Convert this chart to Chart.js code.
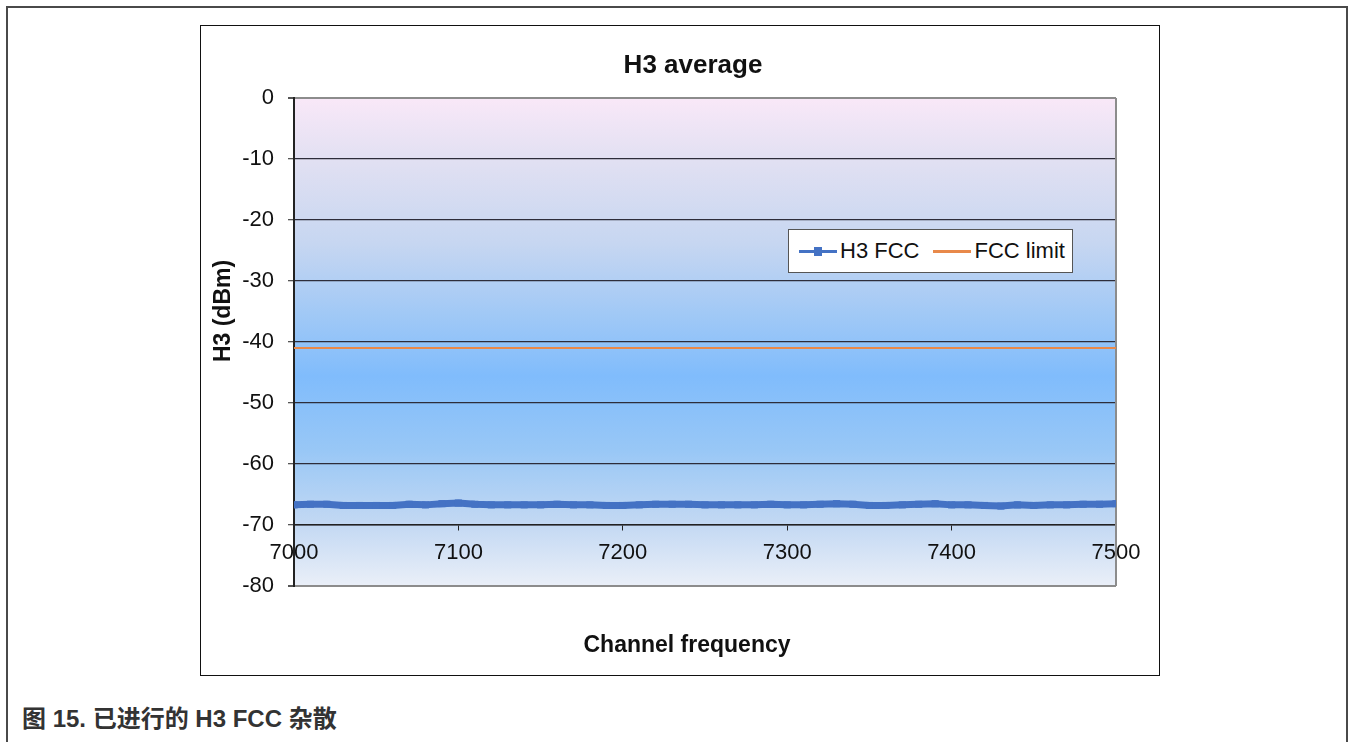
<!DOCTYPE html>
<html>
<head>
<meta charset="utf-8">
<script src="https://cdn.jsdelivr.net/npm/chart.js@4.4.1/dist/chart.umd.min.js"></script>
<style>
  body { margin: 0; background: #fff; width: 1354px; height: 742px; overflow: hidden; position: relative; }
  #frame { position: absolute; left: 6px; top: 6px; width: 1342px; height: 760px; border: 2px solid #4a4a4a; box-sizing: border-box; }
  #box { position: absolute; left: 200px; top: 25px; width: 960px; height: 651px; border: 1px solid #111; box-sizing: border-box; background: #fff; }
  #legend { position: absolute; left: 788px; top: 229px; width: 285px; height: 44px; box-sizing: border-box;
    border: 1px solid #555; background: #fff; display: flex; align-items: center; padding-left: 10px;
    font: 22px "Liberation Sans", Arial, sans-serif; color: #111; white-space: nowrap; }
  .item { display: flex; align-items: center; margin-right: 14px; flex-shrink: 0; }
  .swatch { position: relative; width: 38px; height: 3px; margin-right: 3px; flex-shrink: 0; }
  .mark { position: absolute; left: 15px; top: -3px; width: 8px; height: 9px; }
  #caption { position: absolute; left: 22px; top: 699px; font: bold 24px "Liberation Sans", "Noto Sans CJK SC", sans-serif; color: #333; }
</style>
</head>
<body>
<div id="frame"></div>
<div id="box"><canvas id="myChart"></canvas></div>
<div id="legend"></div>
<div id="caption">图 15. 已进行的 H3 FCC 杂散</div>
<script>
// channel frequency (MHz) and measured H3 level (dBm)
const freqs = [7000, 7010, 7020, 7030, 7040, 7050, 7060, 7070, 7080, 7090,
  7100, 7110, 7120, 7130, 7140, 7150, 7160, 7170, 7180, 7190,
  7200, 7210, 7220, 7230, 7240, 7250, 7260, 7270, 7280, 7290,
  7300, 7310, 7320, 7330, 7340, 7350, 7360, 7370, 7380, 7390,
  7400, 7410, 7420, 7430, 7440, 7450, 7460, 7470, 7480, 7490, 7500]
const h3fcc = [-66.7, -66.6, -66.6, -66.8, -66.8, -66.8, -66.8, -66.6, -66.7, -66.5,
  -66.4, -66.6, -66.7, -66.7, -66.7, -66.7, -66.6, -66.7, -66.7, -66.8,
  -66.8, -66.7, -66.6, -66.6, -66.6, -66.7, -66.7, -66.7, -66.7, -66.6,
  -66.7, -66.7, -66.6, -66.5, -66.6, -66.8, -66.8, -66.7, -66.6, -66.5,
  -66.7, -66.7, -66.8, -66.9, -66.7, -66.8, -66.7, -66.7, -66.6, -66.6, -66.5]
const limitFreqs = [7000, 7500]
const limitValues = [-41, -41]
const yTicks = [0, -10, -20, -30, -40, -50, -60, -70, -80]

const h3Data = freqs.map((f, i) => ({x: f, y: h3fcc[i]}))
const limitData = limitFreqs.map((f, i) => ({x: f, y: limitValues[i]}))

const font = '"Liberation Sans", Arial, sans-serif'

function drawText(ctx, txt, x, y, size, rot) {
  ctx.save()
  ctx.translate(x, y)
  if (rot) ctx.rotate(rot)
  ctx.font = 'bold ' + size + 'px ' + font
  ctx.fillStyle = '#111'
  ctx.textAlign = 'center'
  ctx.textBaseline = 'middle'
  ctx.fillText(txt, 0, 0)
  ctx.restore()
}

// plot area background, right frame, titles
const decor = {
  id: 'decor',
  beforeDraw(chart) {
    const {ctx, chartArea: a} = chart
    const g = ctx.createLinearGradient(0, a.top, 0, a.bottom)
    g.addColorStop(0, '#f9e8f8')
    g.addColorStop(0.13, '#e1e0f2')
    g.addColorStop(0.3, '#c6d6f1')
    g.addColorStop(0.45, '#9fc8f6')
    g.addColorStop(0.57, '#80bcfc')
    g.addColorStop(0.72, '#98c7f6')
    g.addColorStop(0.87, '#c2d8f3')
    g.addColorStop(1, '#eaeff8')
    ctx.save()
    ctx.fillStyle = g
    ctx.fillRect(a.left, a.top, a.right - a.left, a.bottom - a.top)
    ctx.restore()
  },
  beforeDatasetsDraw(chart) {
    const {ctx, chartArea: a} = chart
    ctx.save()
    ctx.strokeStyle = '#8c8c8c'
    ctx.lineWidth = 2
    ctx.beginPath()
    ctx.moveTo(a.right, a.top)
    ctx.lineTo(a.right, a.bottom)
    ctx.stroke()
    ctx.restore()
  },
  afterDraw(chart) {
    const {ctx} = chart
    drawText(ctx, 'H3 average', 492, 40, 26)
    drawText(ctx, 'Channel frequency', 486, 620, 23)
    drawText(ctx, 'H3 (dBm)', 23, 285, 23, -Math.PI / 2)
  }
}

const ctx = document.getElementById('myChart')

const chart = new Chart(ctx, {
  type: 'line',
  data: {
    datasets: [{
      label: 'H3 FCC',
      data: h3Data,
      borderColor: '#4472c4',
      backgroundColor: '#4472c4',
      borderWidth: 7,
      pointStyle: 'rect',
      pointRadius: 5,
      pointBorderWidth: 0,
    }, {
      label: 'FCC limit',
      data: limitData,
      borderColor: '#e8894a',
      backgroundColor: '#e8894a',
      borderWidth: 2,
      pointRadius: 0,
    }]
  },
  options: {
    responsive: true,
    maintainAspectRatio: false,
    animation: false,
    layout: {padding: {left: 0, right: 43, top: 72, bottom: 89}},
    scales: {
      x: {
        type: 'linear',
        position: {y: -70},
        min: 7000,
        max: 7500,
        ticks: {stepSize: 100, color: '#111', padding: 10, font: {family: font, size: 22}, maxRotation: 0,
          callback: (v) => String(v)},
        grid: {drawOnChartArea: false, drawTicks: true, tickLength: 5, tickColor: '#222'},
        border: {color: '#222', width: 1.5},
      },
      y: {
        min: -80,
        max: 0,
        afterBuildTicks: (axis) => { axis.ticks = yTicks.map(v => ({value: v})) },
        afterFit: (axis) => { axis.width = 93 },
        ticks: {color: '#111', padding: 14, font: {family: font, size: 22}},
        grid: {
          color: (c) => (c.tick.value === 0 || c.tick.value === -80) ? '#8c8c8c' : '#2d2d3a',
          lineWidth: (c) => (c.tick.value === 0 || c.tick.value === -80) ? 2 : 1.3,
          tickLength: 6,
          tickColor: '#555',
        },
        border: {color: '#222', width: 2},
      }
    },
    plugins: {
      legend: {display: false},
      tooltip: {enabled: false},
      title: {display: false},
    }
  },
  plugins: [decor],
})

// html legend built from the datasets
const legendEl = document.getElementById('legend')
chart.data.datasets.forEach((ds) => {
  const item = document.createElement('div')
  item.className = 'item'
  const sw = document.createElement('span')
  sw.className = 'swatch'
  sw.style.background = ds.borderColor
  if (ds.pointRadius > 0) {
    const m = document.createElement('span')
    m.className = 'mark'
    m.style.background = ds.borderColor
    sw.appendChild(m)
  }
  item.appendChild(sw)
  item.appendChild(document.createTextNode(ds.label))
  legendEl.appendChild(item)
})
</script>
</body>
</html>
